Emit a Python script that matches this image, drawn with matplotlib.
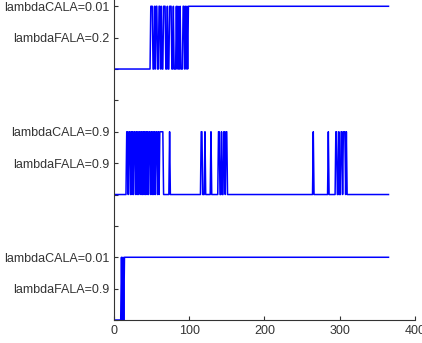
import numpy as np
import matplotlib.pyplot as plt

plt.rcParams['font.family'] = ['Liberation Sans', 'DejaVu Sans']

n_days = 365
days = np.arange(0, n_days + 1)

# (start, end) day intervals where each signal is "on"
top_on = [(49, 52), (54, 55), (56, 58), (60, 62), (63, 64), (66, 69),
          (71, 72), (74, 77), (79, 80), (83, 84), (85, 86), (88, 89),
          (92, 94), (95, 96), (97, 98), (99, n_days)]
mid_on = [(17, 19), (20, 22), (23, 24), (25, 26), (27, 29), (30, 31),
          (32, 33), (34, 36), (37, 38), (39, 40), (41, 42), (43, 44),
          (45, 46), (47, 49), (50, 51), (52, 53), (54, 55), (56, 58),
          (59, 60), (61, 66), (74, 75), (116, 118), (121, 122),
          (129, 130), (139, 141), (143, 144), (146, 148), (149, 151),
          (265, 266), (285, 286), (295, 297), (299, 300), (302, 304),
          (305, 308), (309, 310)]
bot_on = [(10, 11), (12, 13), (14, n_days)]

top_base, mid_base, bot_base = 8, 4, 0

ytick_pos = list(range(0, 11))
ytick_labels = ['', 'lambdaFALA=0.9', 'lambdaCALA=0.01', '', '',
                'lambdaFALA=0.9', 'lambdaCALA=0.9', '', '',
                'lambdaFALA=0.2', 'lambdaCALA=0.01']


def to_series(intervals, base):
    y = np.zeros(len(days))
    for a, b in intervals:
        y[(days >= a) & (days < b)] = 1
    y[-1] = y[-2]
    return base + 2 * y


fig = plt.figure(figsize=(4.22, 3.43), dpi=100)
ax = fig.add_axes([0.270, 0.067, 0.713, 0.933])

for iv, base in [(top_on, top_base), (mid_on, mid_base), (bot_on, bot_base)]:
    ax.plot(days, to_series(iv, base), color='#0000ff', lw=1.1)

ax.set_xlim(0, 400)
ax.set_ylim(0, 10.2)
ax.set_xticks([0, 100, 200, 300, 400])
ax.set_yticks(ytick_pos)
ax.set_yticklabels(ytick_labels)

for s in ['top', 'right']:
    ax.spines[s].set_visible(False)
for s in ['left', 'bottom']:
    ax.spines[s].set_color('#333333')
    ax.spines[s].set_linewidth(0.8)
ax.tick_params(direction='in', length=3, width=0.8, color='#333333',
               labelsize=9, labelcolor='#333333')

fig.savefig('out.png', dpi=100)
